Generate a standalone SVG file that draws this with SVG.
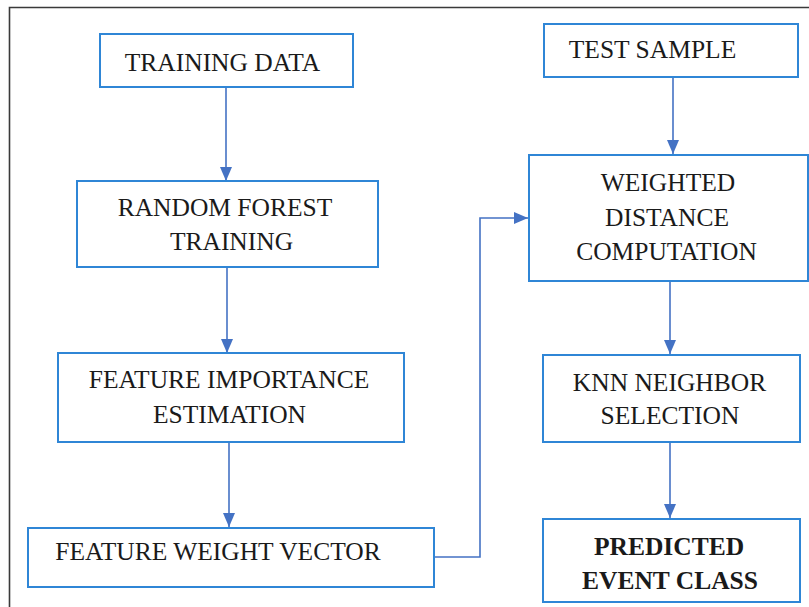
<svg xmlns="http://www.w3.org/2000/svg" width="809" height="607" viewBox="0 0 809 607">
  <style>
    .box { fill: #ffffff; stroke: #2f86d6; stroke-width: 2; }
    .lbl { font-family: 'Liberation Serif', 'Times New Roman', Times, serif; font-size: 25.5px; fill: #1a1a1a; text-anchor: middle; }
    .bold { font-weight: bold; }
    .conn { fill: none; stroke: #4472c4; stroke-width: 1.6; marker-end: url(#arrow); }
  </style>
  <defs>
    <marker id="arrow" viewBox="0 0 14 12" refX="14" refY="6" markerWidth="14" markerHeight="12" markerUnits="userSpaceOnUse" orient="auto">
      <path d="M0,0 L14,6 L0,12 z" fill="#4472c4"/>
    </marker>
  </defs>

  <rect width="809" height="607" fill="#ffffff"/>
  <!-- page frame -->
  <path d="M9.5,607 L9.5,7.5 L809,7.5" fill="none" stroke="#3a3a3a" stroke-width="1.6"/>

  <g id="connectors">
    <path class="conn" d="M226,87 L226,181"/>
    <path class="conn" d="M227,267 L227,353"/>
    <path class="conn" d="M229,442 L229,527"/>
    <path class="conn" d="M434,557 L480,557 L480,218 L528,218"/>
    <path class="conn" d="M673,77 L673,154"/>
    <path class="conn" d="M670,281 L670,354"/>
    <path class="conn" d="M670,442 L670,518"/>
  </g>

  <g id="training-data">
    <rect class="box" x="100" y="34" width="253" height="53"/>
    <text class="lbl" x="222.5" y="71">TRAINING DATA</text>
  </g>

  <g id="random-forest-training">
    <rect class="box" x="77" y="181" width="301" height="86"/>
    <text class="lbl" x="225" y="216">RANDOM FOREST</text>
    <text class="lbl" x="231.5" y="250">TRAINING</text>
  </g>

  <g id="feature-importance">
    <rect class="box" x="58" y="353" width="346" height="89"/>
    <text class="lbl" x="229" y="388">FEATURE IMPORTANCE</text>
    <text class="lbl" x="229.5" y="423">ESTIMATION</text>
  </g>

  <g id="feature-weight-vector">
    <rect class="box" x="28" y="528" width="406" height="59"/>
    <text class="lbl" x="218" y="560">FEATURE WEIGHT VECTOR</text>
  </g>

  <g id="test-sample">
    <rect class="box" x="544" y="24" width="254" height="53"/>
    <text class="lbl" x="652.5" y="58">TEST SAMPLE</text>
  </g>

  <g id="weighted-distance">
    <rect class="box" x="529" y="155" width="279" height="126"/>
    <text class="lbl" x="668" y="191">WEIGHTED</text>
    <text class="lbl" x="667" y="226">DISTANCE</text>
    <text class="lbl" x="666.5" y="260">COMPUTATION</text>
  </g>

  <g id="knn-selection">
    <rect class="box" x="543" y="355" width="257" height="87"/>
    <text class="lbl" x="669.5" y="391">KNN NEIGHBOR</text>
    <text class="lbl" x="670" y="424">SELECTION</text>
  </g>

  <g id="predicted-class">
    <rect class="box" x="543" y="519" width="257" height="83"/>
    <text class="lbl bold" x="669" y="555">PREDICTED</text>
    <text class="lbl bold" x="670" y="589">EVENT CLASS</text>
  </g>
</svg>
